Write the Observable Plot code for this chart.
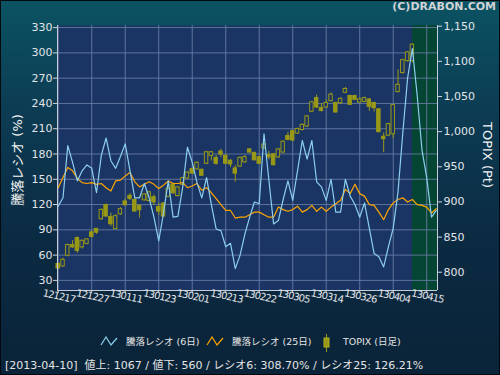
<!DOCTYPE html>
<html><head><meta charset="utf-8">
<script src="https://cdn.jsdelivr.net/npm/d3@7"></script>
<script src="https://cdn.jsdelivr.net/npm/@observablehq/plot@0.6"></script>
<style>
html,body{margin:0;padding:0;background:#0a2236;}
#wrap{position:relative;width:500px;height:375px;overflow:hidden;
 background:linear-gradient(180deg,#0b5363 0%,#0c3d54 28%,#0b2b43 62%,#0a2338 100%);
 font-family:"DejaVu Sans","Noto Sans CJK JP",sans-serif;color:#e0e0e0;}
#chart{position:absolute;left:0;top:0;}
.abs{position:absolute;white-space:nowrap;}
.title{right:4px;top:0px;font-weight:bold;font-size:11px;color:#cfd3d6;}
.ylab{left:16px;top:160px;transform:translate(-50%,-50%) rotate(-90deg);font-size:13px;color:#f4f4f4;}
.y2lab{left:487px;top:155px;transform:translate(-50%,-50%) rotate(90deg);font-size:13px;color:#f4f4f4;}
.leg{top:336px;font-size:9.5px;line-height:12px;color:#e4e4e4;}
.caption{left:5px;top:359px;font-size:11px;line-height:14px;color:#e4e4e4;}
.border{position:absolute;left:0;top:0;width:500px;height:375px;box-sizing:border-box;border:1px solid #050a10;pointer-events:none;}
</style></head><body>
<div id="wrap">
 <div id="chart"></div>
 <div class="abs title">(C)DRABON.COM</div>
 <div class="abs ylab">騰落レシオ (%)</div>
 <div class="abs y2lab">TOPIX (Pt)</div>
 <svg class="abs" style="left:100px;top:336px" width="20" height="12"><polyline points="1,9 6,1 11,9 17,2" fill="none" stroke="#8ccfee" stroke-width="1.2"/></svg>
 <div class="abs leg" style="left:126px">騰落レシオ (6日)</div>
 <svg class="abs" style="left:206px;top:336px" width="20" height="12"><polyline points="1,9 6,1 11,9 17,2" fill="none" stroke="#ffa500" stroke-width="1.2"/></svg>
 <div class="abs leg" style="left:232px">騰落レシオ (25日)</div>
 <svg class="abs" style="left:322px;top:334px" width="10" height="18"><line x1="4.5" y1="0" x2="4.5" y2="18" stroke="#999917"/><rect x="2" y="4" width="5" height="9" fill="#999917" stroke="#b0b020"/></svg>
 <div class="abs leg" style="left:343px">TOPIX (日足)</div>
 <div class="abs caption">[2013-04-10]&nbsp; 値上: 1067 / 値下: 560 / レシオ6: 308.70% / レシオ25: 126.21%</div>
 <div class="border"></div>
</div>
<script>
// ---- data ----
const xTickIndex = [0,7,14,21,28,35,42,49,56,63,70,77];
const xTickLabels = ["121217","121227","130111","130123","130201","130213","130222","130305","130314","130326","130404","130415"];
const leftTicks = [30,60,90,120,150,180,210,240,270,300,330];
const rightTicks = [800,850,900,950,1000,1050,1100,1150];

const ratio6 = [118,128,190,170,148,160,167,163,134,178,199,172,163,177,192,160,128,128,145,128,
 105,77,110,148,105,106,140,188,170,146,128,152,120,91,89,70,74,44,60,85,
 105,123,121,204,150,97,101,126,148,125,160,196,174,196,147,141,125,150,111,111,
 150,130,120,105,122,92,62,58,46,70,92,135,205,270,305,250,185,152,105,113];
const ratio25 = [140,152,164,160,151,146,145,146,144,145,140,136,148,149,154,158,147,141,144,147,
 144,139,143,148,145,145,146,140,142,145,137,140,134,127,120,113,113,104,105,105,
 108,111,111,108,105,105,117,114,112,114,118,111,114,119,112,117,112,117,121,125,
 138,133,144,133,130,120,119,111,102,114,122,126,128,123,126,120,119,117,110,115];

const topixOpen  = [811,809,824,838,848,836,841,856,861,876,895,878,862,883,900,908,902,894,903,902,
 906,892,897,908,924,909,925,934,946,947,945,955,966,962,971,965,958,947,951,957,
 974,969,963,977,966,967,964,971,993,1000,998,1003,1008,1029,1047,1033,1035,1044,1040,1041,
 1056,1050,1050,1042,1043,1045,1040,1031,992,995,997,1057,1084,1101,1101];
const topixClose = [806,817,838,836,831,844,846,851,857,888,880,869,879,889,896,905,887,889,910,913,
 900,887,880,918,913,920,933,941,941,955,938,970,970,955,968,955,954,941,962,963,
 971,960,955,981,964,953,974,985,989,988,1003,1009,1021,1041,1035,1030,1040,1052,1028,1046,
 1060,1039,1046,1045,1047,1036,1034,1000,990,1010,1037,1066,1101,1112,1123];
const topixHigh  = [813,820,840,845,850,846,848,859,862,890,897,884,882,892,904,912,905,895,912,915,
 910,898,899,920,926,922,935,943,948,957,947,972,972,966,975,967,960,952,964,966,
 976,971,965,983,972,969,976,987,999,1002,1005,1011,1023,1043,1052,1040,1045,1055,1042,1048,
 1063,1052,1052,1048,1049,1047,1042,1033,998,1012,1039,1088,1103,1114,1125];
const topixLow   = [804,807,822,834,827,833,839,849,854,874,878,865,861,881,894,902,886,877,901,900,
 895,881,878,906,911,907,923,932,939,945,936,953,958,952,963,953,949,928,949,955,
 969,958,953,975,960,951,962,969,987,986,996,1001,1006,1027,1033,1028,1033,1042,1026,1039,
 1054,1037,1044,1040,1041,1029,1028,998,970,993,990,1055,1082,1099,1098];
const lastDataIndex = 74;

// ---- scales ----
const yDom = [18, 332.5];
const pDom = [774, 1151];
const toY = p => yDom[0] + (p - pDom[0]) * (yDom[1]-yDom[0]) / (pDom[1]-pDom[0]);
const fromY = v => pDom[0] + (v - yDom[0]) * (pDom[1]-pDom[0]) / (yDom[1]-yDom[0]);
const xDom = [-0.15, 79.25];

const r6 = ratio6.map((v,i)=>({i, v}));
const r25 = ratio25.map((v,i)=>({i, v}));
const candles = topixOpen.map((o,i)=>({i, o:toY(o), c:toY(topixClose[i]), h:toY(topixHigh[i]), l:toY(topixLow[i]), up: topixClose[i] >= o}));

const plotBg = "#1a3463";
const candleCol = "#999917";
const gridCol = "#6b7fa6";

const chart = Plot.plot({
  width: 500, height: 375,
  marginLeft: 57, marginRight: 63, marginTop: 25, marginBottom: 85,
  style: {background: "transparent", fontFamily: "DejaVu Sans", fontSize: "11px", color: "#e2e4e8"},
  x: {domain: xDom, axis: null},
  y: {domain: yDom, axis: null},
  marks: [
    Plot.frame({fill: plotBg, stroke: null}),
    Plot.rect([0], {x1: () => lastDataIndex, x2: () => xDom[1], y1: () => yDom[0], y2: () => yDom[1], fill: "#044534"}),
    Plot.gridY(leftTicks, {stroke: gridCol, strokeOpacity: 0.85, strokeWidth: 1}),
    Plot.gridX(xTickIndex, {stroke: gridCol, strokeOpacity: 0.85, strokeWidth: 1}),
    Plot.ruleX(candles, {x: "i", y1: "l", y2: "h", stroke: candleCol, strokeWidth: 1}),
    Plot.rect(candles, {x1: d => d.i - 0.36, x2: d => d.i + 0.36, y1: "o", y2: "c",
      fill: d => d.up ? plotBg : candleCol, stroke: candleCol, strokeWidth: 1, insetTop: -0.5, insetBottom: -0.5}),
    Plot.line(r25, {x: "i", y: "v", stroke: "#ffa500", strokeWidth: 1.2}),
    Plot.line(r6, {x: "i", y: "v", stroke: "#8ccfee", strokeWidth: 1.2}),
    Plot.ruleX([xDom[0], xDom[1]], {stroke: "#c6ccd8", strokeWidth: 1}),
    Plot.ruleY([yDom[0]], {stroke: "#c6ccd8", strokeWidth: 1}),
    Plot.axisY(leftTicks, {anchor: "left", tickSize: 4, tickPadding: 1, stroke: "#d0d4dc", fill: "#e2e4e8", label: null}),
    Plot.axisY(rightTicks.map(toY), {anchor: "right", tickSize: 4, tickPadding: 2, stroke: "#d0d4dc", fill: "#e2e4e8", label: null,
      tickFormat: v => d3.format(",")(Math.round(fromY(v)/50)*50)}),
    Plot.axisX(xTickIndex, {anchor: "bottom", tickSize: 3, stroke: "#d0d4dc", tickFormat: () => "", label: null}),
    Plot.text(xTickIndex, {x: d => d, frameAnchor: "bottom", dy: 9, rotate: 12, text: (d, k) => xTickLabels[k],
      fill: "#e2e4e8", fontSize: 10, textAnchor: "middle"})
  ]
});
document.getElementById("chart").appendChild(chart);
d3.select(chart).selectAll('g[aria-label="text"] text').attr("letter-spacing", "-0.9");
</script>
</body></html>
